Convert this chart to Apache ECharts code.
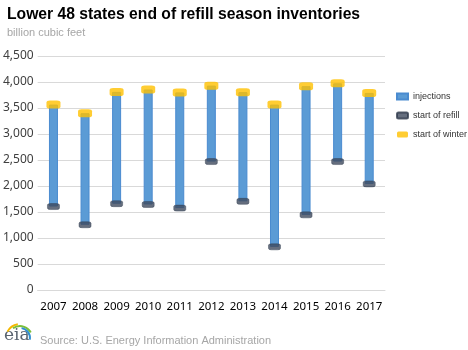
<!DOCTYPE html>
<html>
<head>
<meta charset="utf-8">
<script src="https://cdn.jsdelivr.net/npm/echarts@6/dist/echarts.min.js"></script>
<style>
  html, body { margin: 0; padding: 0; background: #fff; }
  #main { width: 468px; height: 350px; }
</style>
</head>
<body>
<div id="main"></div>
<script>
const years = ['2007', '2008', '2009', '2010', '2011', '2012', '2013', '2014', '2015', '2016', '2017'];
const startOfRefill = [1605, 1255, 1660, 1645, 1575, 2470, 1705, 830, 1445, 2470, 2040];
const startOfWinter = [3565, 3400, 3810, 3855, 3800, 3930, 3805, 3565, 3920, 3975, 3790];
const yTicks = [0, 500, 1000, 1500, 2000, 2500, 3000, 3500, 4000, 4500];

const injections = startOfWinter.map((w, i) => w - startOfRefill[i]);

var myChart = echarts.init(document.getElementById('main'));
myChart.setOption({
  animation: false,
  textStyle: { fontFamily: 'Noto Sans' },
  title: [
    {
      text: 'Lower 48 states end of refill season inventories',
      left: 2, top: 2,
      textStyle: { fontFamily: 'Liberation Sans', fontSize: 15.7, fontWeight: 'bold', color: '#000' }
    },
    {
      text: 'billion cubic feet',
      left: 2, top: 22,
      textStyle: { fontFamily: 'Liberation Sans', fontSize: 11, fontWeight: 'normal', color: '#a6a6a6' }
    },
    {
      text: 'Source: U.S. Energy Information Administration',
      left: 35, top: 330,
      textStyle: { fontFamily: 'Liberation Sans', fontSize: 11, fontWeight: 'normal', color: '#a6a6a6' }
    }
  ],
  legend: {
    orient: 'vertical',
    left: 391, top: 87,
    itemGap: 10,
    itemWidth: 11, itemHeight: 6,
    textStyle: { fontSize: 9, color: '#333', fontFamily: 'Liberation Sans' },
    data: [
      { name: 'injections', icon: 'rect', itemStyle: { color: '#5B9BD5' } },
      { name: 'start of refill', icon: 'roundRect' },
      { name: 'start of winter', icon: 'roundRect' }
    ]
  },
  grid: { left: 37, right: 83, top: 56, bottom: 60 },
  xAxis: {
    type: 'category',
    data: years,
    axisTick: { show: false },
    axisLine: { lineStyle: { color: '#d9d9d9' } },
    axisLabel: { fontSize: 11.5, color: '#000', margin: 11, interval: 0 }
  },
  yAxis: {
    type: 'value',
    min: 0, max: 4500, interval: 500,
    axisLine: { show: false },
    axisTick: { show: false },
    splitLine: { lineStyle: { color: '#d9d9d9' } },
    axisLabel: {
      fontSize: 12, color: '#404040', margin: 4,
      formatter: v => yTicks.includes(v) ? v.toLocaleString('en-US') : ''
    }
  },
  series: [
    {
      name: 'base',
      type: 'bar',
      stack: 'inv',
      data: startOfRefill,
      barWidth: 9,
      itemStyle: { color: 'transparent' },
      silent: true
    },
    {
      name: 'injections',
      type: 'bar',
      stack: 'inv',
      data: injections,
      barWidth: 9,
      itemStyle: { color: '#5B9BD5', borderColor: '#4A8BD0', borderWidth: 1 }
    },
    {
      name: 'start of refill',
      type: 'scatter',
      data: startOfRefill,
      symbol: 'roundRect',
      symbolSize: [12, 6],
      itemStyle: { color: '#3f4a5e', borderColor: '#2f3b4c', borderWidth: 0.5 },
      z: 5
    },
    {
      name: 'start of winter',
      type: 'scatter',
      data: startOfWinter,
      symbol: 'roundRect',
      symbolSize: [14, 8],
      itemStyle: { color: '#FFC000' },
      z: 5
    }
  ],
  graphic: [
    { type: 'text', left: 4, top: 327,
      style: { text: 'eia', font: '17px "DejaVu Serif"', fill: '#5a6470' } },
    { type: 'arc', shape: { cx: 20, cy: 338, r: 14, startAngle: -Math.PI * 0.85, endAngle: -Math.PI * 0.55 },
      style: { stroke: '#f5b800', lineWidth: 2, fill: null } },
    { type: 'arc', shape: { cx: 20, cy: 338, r: 12, startAngle: -Math.PI * 0.7, endAngle: -Math.PI * 0.15 },
      style: { stroke: '#7cbf3a', lineWidth: 2, fill: null } },
    { type: 'arc', shape: { cx: 20, cy: 338, r: 10, startAngle: -Math.PI * 0.45, endAngle: Math.PI * 0.05 },
      style: { stroke: '#2f8fd0', lineWidth: 2, fill: null } }
  ]
});
</script>
</body>
</html>
